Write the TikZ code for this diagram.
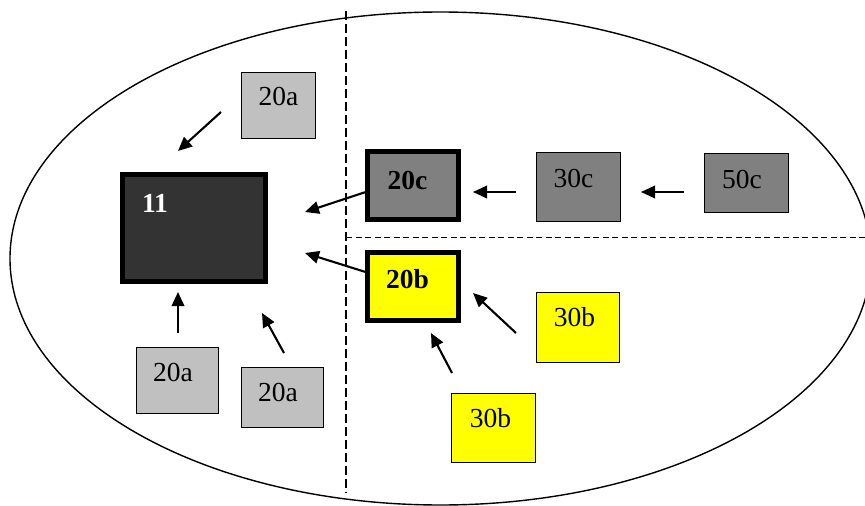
\documentclass[tikz,border=0pt]{standalone}
\usepackage{fontspec}
\setmainfont{Liberation Serif}
\usetikzlibrary{arrows.meta,calc}
\definecolor{lightg}{HTML}{C0C0C0}
\definecolor{midg}{HTML}{808080}
\definecolor{darkg}{HTML}{333333}
\definecolor{yel}{HTML}{FFFF00}
\begin{document}
\begin{tikzpicture}[x=1pt,y=-1pt,
  thinbox/.style={draw=black, line width=1.3pt, inner sep=0pt},
  thickbox/.style={draw=black, line width=5pt, inner sep=0pt},
  lbl/.style={font=\fontsize{27.5}{32}\selectfont, anchor=base, inner sep=0pt},
  blbl/.style={lbl, font=\fontsize{27.5}{32}\selectfont\bfseries},
  arr/.style={line width=2.1pt, -{Triangle[length=14pt,width=12.5pt]}},
  vdash/.style={line width=1.3pt, dash pattern=on 9pt off 4pt},
  hdash/.style={line width=1.3pt, dash pattern=on 6pt off 3.5pt}]
\useasboundingbox (0,0) rectangle (865,506);
\fill[white] (0,0) rectangle (865,506);
% outer ellipse
\draw[line width=1.4pt] (440.5,258.5) ellipse [x radius=430.5, y radius=246.5];
% dashed separators
\coordinate (vtop) at (346,11);
\coordinate (vbot) at (346,493);
\coordinate (hl) at (346,237.5);
\coordinate (hr) at (866,237.5);
\draw[vdash] (vtop) -- (vbot);
\draw[hdash] (hl) -- (hr);
% boxes
\node[thickbox, fill=darkg, minimum width=143pt, minimum height=107pt] (n11) at (194,228) {};
\node[blbl, text=white] (t11) at (155,212) {11};
\node[thinbox, fill=lightg, minimum width=73.7pt, minimum height=65.7pt] (a1) at (278.5,105.5) {};
\node[lbl] (ta1) at (278.5,105) {20a};
\node[thinbox, fill=lightg, minimum width=81.7pt, minimum height=65.7pt] (a2) at (177.5,380.5) {};
\node[lbl] (ta2) at (173,381) {20a};
\node[thinbox, fill=lightg, minimum width=81.7pt, minimum height=59.7pt] (a3) at (282.5,397.5) {};
\node[lbl] (ta3) at (278,401) {20a};
\node[thickbox, fill=midg, minimum width=91pt, minimum height=68pt] (c20) at (413,185.5) {};
\node[blbl] (tc20) at (407.5,189) {20c};
\node[thinbox, fill=midg, minimum width=83.7pt, minimum height=68.7pt] (c30) at (578.5,187) {};
\node[lbl] (tc30) at (573.5,187) {30c};
\node[thinbox, fill=midg, minimum width=83.7pt, minimum height=58.7pt] (c50) at (746.5,183) {};
\node[lbl] (tc50) at (742,188) {50c};
\node[thickbox, fill=yel, minimum width=91pt, minimum height=68pt] (b20) at (413,286.5) {};
\node[blbl] (tb20) at (407.5,288) {20b};
\node[thinbox, fill=yel, minimum width=82.7pt, minimum height=69.7pt] (b30r) at (578,327.5) {};
\node[lbl] (tb30r) at (574.5,326) {30b};
\node[thinbox, fill=yel, minimum width=83.7pt, minimum height=68.7pt] (b30b) at (493.5,428) {};
\node[lbl] (tb30b) at (490.5,427) {30b};
% arrow end points
\coordinate (e1s) at (221,112);
\coordinate (e1e) at (178,151);
\coordinate (e2e) at (305,212);
\coordinate (e3e) at (305,253);
\coordinate (e4s) at (516,192);
\coordinate (e4e) at (473,192);
\coordinate (e5s) at (684,192);
\coordinate (e5e) at (641,192);
\coordinate (e6s) at (516,333);
\coordinate (e6e) at (473,293);
\coordinate (e7s) at (452,373);
\coordinate (e7e) at (431,333);
\coordinate (e8s) at (178,333);
\coordinate (e8e) at (178,292);
\coordinate (e9s) at (284,353);
\coordinate (e9e) at (262,313);
% arrows
\draw[arr] (e1s) -- (e1e);
\draw[arr] (c20.188) -- (e2e);
\draw[arr] (b20.163) -- (e3e);
\draw[arr] (e4s) -- (e4e);
\draw[arr] (e5s) -- (e5e);
\draw[arr] (e6s) -- (e6e);
\draw[arr] (e7s) -- (e7e);
\draw[arr] (e8s) -- (e8e);
\draw[arr] (e9s) -- (e9e);
\end{tikzpicture}
\end{document}
